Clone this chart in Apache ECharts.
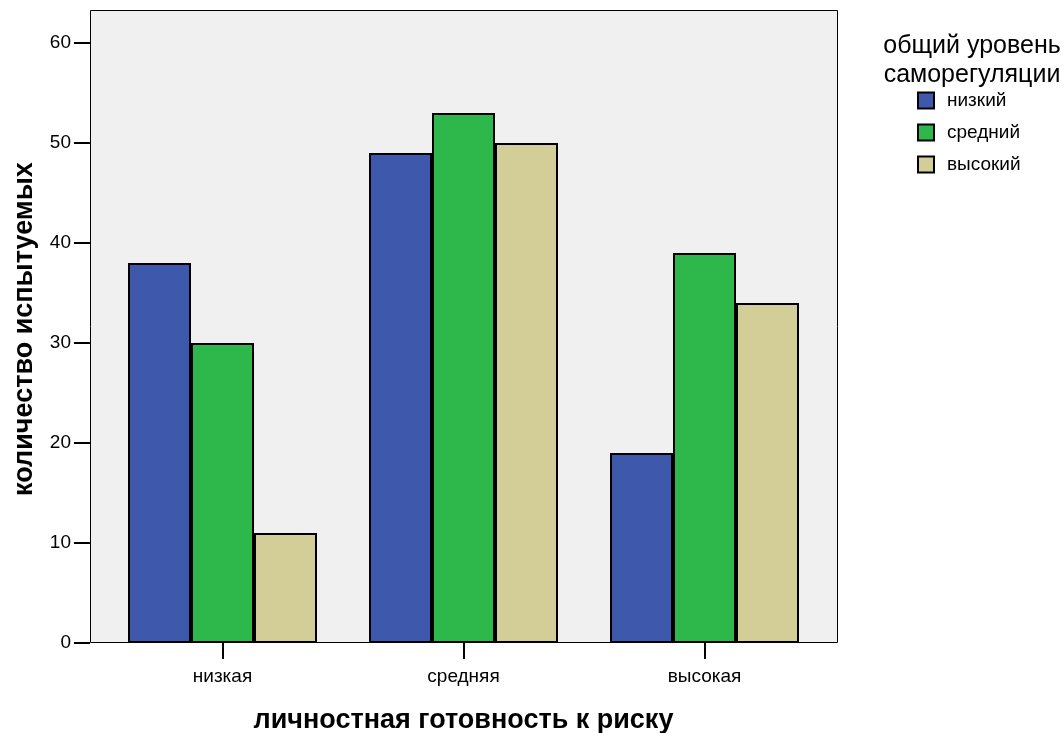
<!DOCTYPE html>
<html>
<head>
<meta charset="utf-8">
<script src="https://cdn.jsdelivr.net/npm/echarts@6/dist/echarts.min.js"></script>
<style>html,body{margin:0;padding:0;background:#fff;}#c{width:1063px;height:733px;}</style>
</head>
<body>
<div id="c"></div>
<script>
const categories = ['низкая', 'средняя', 'высокая'];
const seriesNames = ['низкий', 'средний', 'высокий'];
const lowValues = [38, 49, 19];
const midValues = [30, 53, 39];
const highValues = [11, 50, 34];
const yTicks = [0, 10, 20, 30, 40, 50, 60];
const xTitle = 'личностная готовность к риску';
const yTitle = 'количество испытуемых';
const legendTitle = 'общий уровень\nсаморегуляции';

const FONT = '"Liberation Sans", Arial, sans-serif';
const colors = ['#3e58ac', '#2eb84b', '#d3ce98'];
const values = [lowValues, midValues, highValues];

const chart = echarts.init(document.getElementById('c'), null, {renderer: 'canvas'});
chart.setOption({
  animation: false,
  backgroundColor: '#ffffff',
  grid: {left: 102, right: 238, top: 11, bottom: 90, containLabel: false},
  graphic: [
    {type: 'rect', z: -10, shape: {x: 90.5, y: 10.5, width: 747, height: 632},
     style: {fill: '#f0f0f0', stroke: '#000', lineWidth: 1}},
    {type: 'text', z: 10, x: 463.5, y: 721,
     style: {text: xTitle, font: 'bold 27px ' + FONT, fill: '#000', textAlign: 'center', textVerticalAlign: 'middle'}},
    {type: 'text', z: 10, x: 25, y: 329, rotation: Math.PI / 2,
     style: {text: yTitle, font: 'bold 27px ' + FONT, fill: '#000', textAlign: 'center', textVerticalAlign: 'middle'}},
    {type: 'text', z: 10, x: 972, y: 61,
     style: {text: legendTitle, font: '25px ' + FONT, fill: '#000', textAlign: 'center', textVerticalAlign: 'middle', lineHeight: 29}}
  ],
  legend: {
    orient: 'vertical', left: 917, top: 91, padding: 0,
    itemWidth: 16, itemHeight: 16, itemGap: 13, icon: 'rect',
    textStyle: {fontSize: 19, fontFamily: FONT, color: '#000', lineHeight: 16, padding: [0, 0, 0, 8]},
    data: seriesNames
  },
  xAxis: {
    type: 'category', data: categories,
    axisLine: {show: false},
    axisTick: {show: true, alignWithLabel: true, length: 16, lineStyle: {color: '#000', width: 2}},
    axisLabel: {fontSize: 19, fontFamily: FONT, color: '#000', margin: 24}
  },
  yAxis: {
    type: 'value', min: 0, max: 63.2, interval: 10, offset: 12,
    axisLine: {show: false},
    splitLine: {show: false},
    axisTick: {show: true, length: 16, customValues: yTicks, lineStyle: {color: '#000', width: 2}},
    axisLabel: {fontSize: 19, fontFamily: FONT, color: '#000', margin: 19, customValues: yTicks}
  },
  series: seriesNames.map((n, i) => ({
    name: n, type: 'bar', data: values[i], barWidth: 63, barGap: '0%',
    itemStyle: {color: colors[i], borderColor: '#000', borderWidth: 2}
  }))
});
</script>
</body>
</html>
